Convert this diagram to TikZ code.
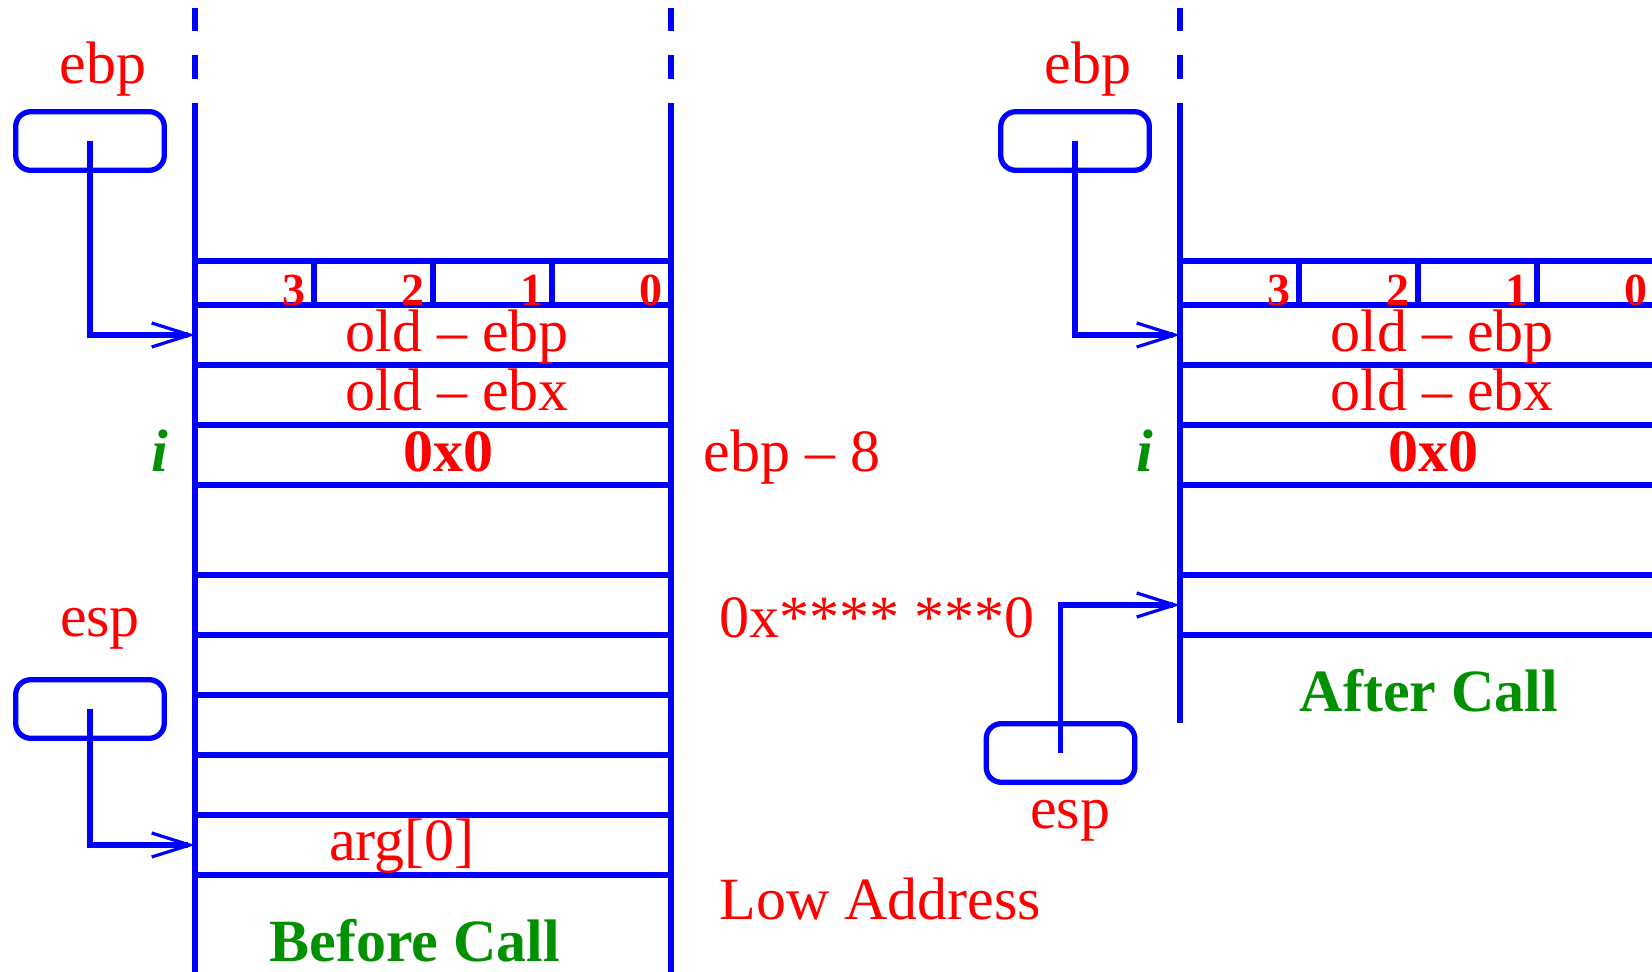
\documentclass[tikz,border=0pt]{standalone}
\usepackage{fontspec}
\setmainfont{Liberation Serif}
\usetikzlibrary{arrows.meta}
\definecolor{fblue}{RGB}{0,0,255}
\definecolor{fred}{RGB}{255,0,0}
\definecolor{fgreen}{RGB}{0,144,0}
\begin{document}
\begin{tikzpicture}[x=0.5pt,y=-0.5pt,
  wall/.style={draw=fblue,line width=2.65pt},
  lbl/.style={text=fred,font=\fontsize{30}{36}\selectfont,inner sep=0pt,anchor=base},
  lblb/.style={lbl,font=\fontsize{30}{36}\selectfont\bfseries},
  byte/.style={text=fred,font=\fontsize{23}{27}\selectfont\bfseries,inner sep=0pt,anchor=base east},
  title/.style={text=fgreen,font=\fontsize{30}{36}\selectfont\bfseries,inner sep=0pt,anchor=base},
  ivar/.style={text=fgreen,font=\fontsize{30}{36}\selectfont\bfseries\itshape,inner sep=0pt,anchor=base},
  reg/.style={draw=fblue,line width=2.65pt,rounded corners=7.5pt,minimum width=74.3pt,minimum height=29.3pt,inner sep=0pt},
  ptr/.style={draw=fblue,line width=2.65pt,-{Straight Barb[length=19pt,width=12pt,line width=1.6pt]}}
]
\clip (0,0) rectangle (1652,972);
% ---------------- left stack (before call) ----------------
\foreach \x in {195,671}{
  \draw[wall] (\x,8) -- (\x,31.5);
  \draw[wall] (\x,55) -- (\x,79);
  \draw[wall] (\x,103) -- (\x,972);
}
\foreach \y in {261,305,365,425,485,575,635,695,755,815,875}
  \draw[wall] (195,\y) -- (671,\y);
\foreach \x in {314,433,552}
  \draw[wall] (\x,261) -- (\x,305);
\node[byte] (bL3) at (306,306) {3};
\node[byte] (bL2) at (425,306) {2};
\node[byte] (bL1) at (544,306) {1};
\node[byte] (bL0) at (663,306) {0};
\node[lbl] (oebpL) at (457,352) {old -- ebp};
\node[lbl] (oebxL) at (457,411) {old -- ebx};
\node[lblb] (zeroL) at (448,472) {0x0};
\node[ivar] (iL) at (160,472) {i};
\node[lbl] (argL) at (402,860) {arg[0]};
\node[title] (before) at (415,961) {Before Call};
\node[lbl,anchor=base west] (ebp8) at (703,472) {ebp -- 8};
\node[lbl,anchor=base west] (addr) at (719,637) {0x**** ***0};
\node[lbl,anchor=base west] (low) at (719,919) {Low Address};
\node[lbl] (ebpLlab) at (103,84) {ebp};
\node[lbl] (espLlab) at (100,636) {esp};
\node[reg] (ebpbL) at (90,141) {};
\node[reg] (espbL) at (90,709) {};
\coordinate (tgtL1) at (195,335);
\coordinate (tgtL2) at (195,845);
\draw[ptr] (ebpbL.center) |- (tgtL1);
\draw[ptr] (espbL.center) |- (tgtL2);
% ---------------- right stack (after call) ----------------
\draw[wall] (1180,8) -- (1180,31.5);
\draw[wall] (1180,55) -- (1180,79);
\draw[wall] (1180,103) -- (1180,723);
\foreach \y in {261,305,365,425,485,575,635}
  \draw[wall] (1180,\y) -- (1660,\y);
\foreach \x in {1299,1418,1537}
  \draw[wall] (\x,261) -- (\x,305);
\node[byte] (bR3) at (1291,306) {3};
\node[byte] (bR2) at (1410,306) {2};
\node[byte] (bR1) at (1529,306) {1};
\node[byte] (bR0) at (1648,306) {0};
\node[lbl] (oebpR) at (1442,352) {old -- ebp};
\node[lbl] (oebxR) at (1442,411) {old -- ebx};
\node[lblb] (zeroR) at (1433,472) {0x0};
\node[ivar] (iR) at (1145,472) {i};
\node[title] (after) at (1429,711) {After Call};
\node[lbl] (ebpRlab) at (1088,84) {ebp};
\node[lbl] (espRlab) at (1070,828) {esp};
\node[reg] (ebpbR) at (1075,141) {};
\node[reg] (espbR) at (1060.5,753) {};
\coordinate (tgtR1) at (1180,335);
\coordinate (tgtR2) at (1180,605);
\draw[ptr] (ebpbR.center) |- (tgtR1);
\draw[ptr] (espbR.center) |- (tgtR2);
\end{tikzpicture}
\end{document}
